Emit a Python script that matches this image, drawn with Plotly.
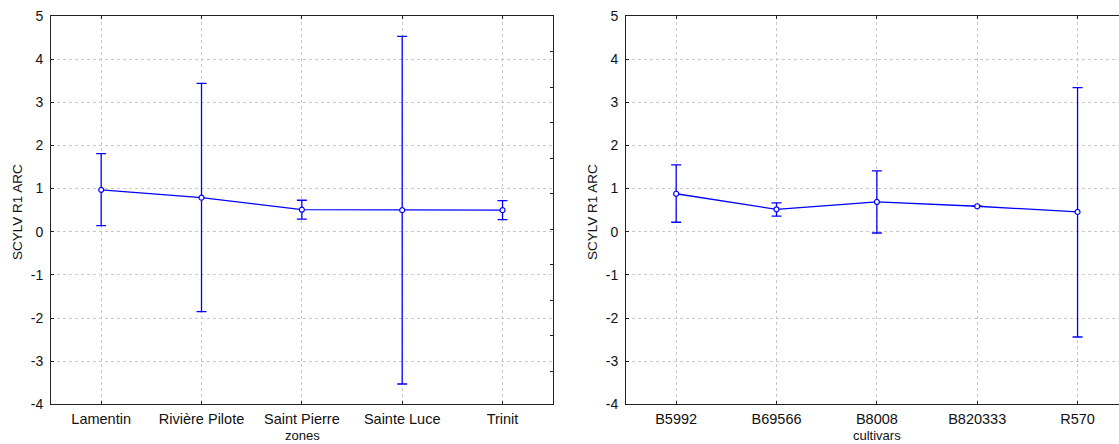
import plotly.graph_objects as go

W, H = 1119, 444

# ---- data ----
zones = ["Lamentin", "Rivière Pilote", "Saint Pierre", "Sainte Luce", "Trinit"]
zone_mean = [0.97, 0.79, 0.51, 0.50, 0.50]
zone_upper = [1.81, 3.44, 0.73, 4.53, 0.72]
zone_lower = [0.14, -1.85, 0.29, -3.53, 0.28]

cultivars = ["B5992", "B69566", "B8008", "B820333", "R570"]
cult_mean = [0.88, 0.52, 0.69, 0.59, 0.46]
cult_upper = [1.55, 0.67, 1.41, None, 3.34]
cult_lower = [0.22, 0.36, -0.03, None, -2.44]

y_ticks = [-4, -3, -2, -1, 0, 1, 2, 3, 4, 5]
y_ticklabels = ["-4", "-3", "-2", "-1", "0", "1", "2", "3", "4", "5"]
y_title = "SCYLV R1 ARC"
x_titles = ["zones", "cultivars"]

BLUE = "#0000FF"
FONT = "Liberation Sans, Arial, sans-serif"


def err(vals, means, up):
    out = []
    for v, m in zip(vals, means):
        if v is None:
            out.append(None)
        else:
            out.append(round((v - m) if up else (m - v), 4))
    return out


def px_x(p):
    return p / W


def px_y(p):
    return (H - p) / H


fig = go.Figure()

for cats, means, ups, lows, xa, ya in [
    (zones, zone_mean, zone_upper, zone_lower, "x", "y"),
    (cultivars, cult_mean, cult_upper, cult_lower, "x2", "y2"),
]:
    idx = list(range(len(cats)))
    fig.add_trace(go.Scatter(
        x=idx, y=means, xaxis=xa, yaxis=ya, mode="lines+markers",
        line=dict(color=BLUE, width=1.3),
        marker=dict(symbol="circle", size=5, color="white",
                    line=dict(color=BLUE, width=1.2)),
        error_y=dict(type="data", symmetric=False,
                     array=err(ups, means, True),
                     arrayminus=err(lows, means, False),
                     color=BLUE, thickness=1.3, width=5),
        showlegend=False, hoverinfo="x+y",
    ))

# dummy trace for the right-hand minor tick scale of the left panel
fig.add_trace(go.Scatter(x=[None], y=[None], xaxis="x", yaxis="y3",
                         showlegend=False, hoverinfo="skip"))

top, bottom = 16, 404.3
ydom = [px_y(bottom), px_y(top)]

axis_common = dict(
    showline=True, linecolor="#222222", linewidth=1, automargin=False,
    showgrid=True, gridcolor="#C8C8C8", griddash="dot", gridwidth=1,
    zeroline=False,
)
xfont = dict(family=FONT, size=14.5, color="#111111")
yfont = dict(family=FONT, size=14, color="#111111")

fig.update_layout(
    width=W, height=H,
    margin=dict(l=0, r=0, t=0, b=0, pad=0, autoexpand=False),
    paper_bgcolor="white", plot_bgcolor="white",
    font=dict(family=FONT, color="#111111"),
    xaxis=dict(domain=[px_x(51), px_x(552.7)], range=[-0.5, 4.5],
               tickmode="array", tickvals=list(range(5)), ticktext=zones,
               ticks="inside", ticklen=3, tickcolor="#222222", tickfont=xfont,
               mirror="ticks", anchor="y", ticklabelstandoff=1, **axis_common),
    yaxis=dict(domain=ydom, range=[-4, 5], tickmode="array",
               tickvals=y_ticks, ticktext=y_ticklabels, tickfont=yfont,
               ticks="inside", ticklen=3, tickcolor="#222222",
               mirror=True, anchor="x", ticklabelstandoff=4, **axis_common),
    yaxis3=dict(overlaying="y", side="right", anchor="x", range=[10.93, 0],
                tickvals=list(range(1, 11)), ticks="inside", ticklen=3,
                tickcolor="#222222", showticklabels=False, showgrid=False,
                showline=False, zeroline=False, automargin=False),
    xaxis2=dict(domain=[px_x(626), 1.0], range=[-0.5, 4.413],
                tickmode="array", tickvals=list(range(5)), ticktext=cultivars,
                ticks="inside", ticklen=3, tickcolor="#222222", tickfont=xfont,
                mirror="ticks", anchor="y2", ticklabelstandoff=1, **axis_common),
    yaxis2=dict(domain=ydom, range=[-4, 5], tickmode="array",
                tickvals=y_ticks, ticktext=y_ticklabels, tickfont=yfont,
                ticks="inside", ticklen=3, tickcolor="#222222",
                mirror=False, anchor="x2", ticklabelstandoff=4, **axis_common),
)

annos = []
for xc, txt in [(17, y_title), (592, y_title)]:
    annos.append(dict(x=px_x(xc), y=px_y(212), xref="paper", yref="paper",
                      text=txt, textangle=-90, showarrow=False,
                      xanchor="center", yanchor="middle",
                      font=dict(family=FONT, size=13.5, color="#111111")))
for xc, txt in [(302, x_titles[0]), (877, x_titles[1])]:
    annos.append(dict(x=px_x(xc), y=0, xref="paper", yref="paper",
                      text=txt, showarrow=False, borderpad=0,
                      xanchor="center", yanchor="bottom",
                      font=dict(family=FONT, size=13, color="#111111")))
fig.update_layout(annotations=annos)

fig.write_html("out.html")
